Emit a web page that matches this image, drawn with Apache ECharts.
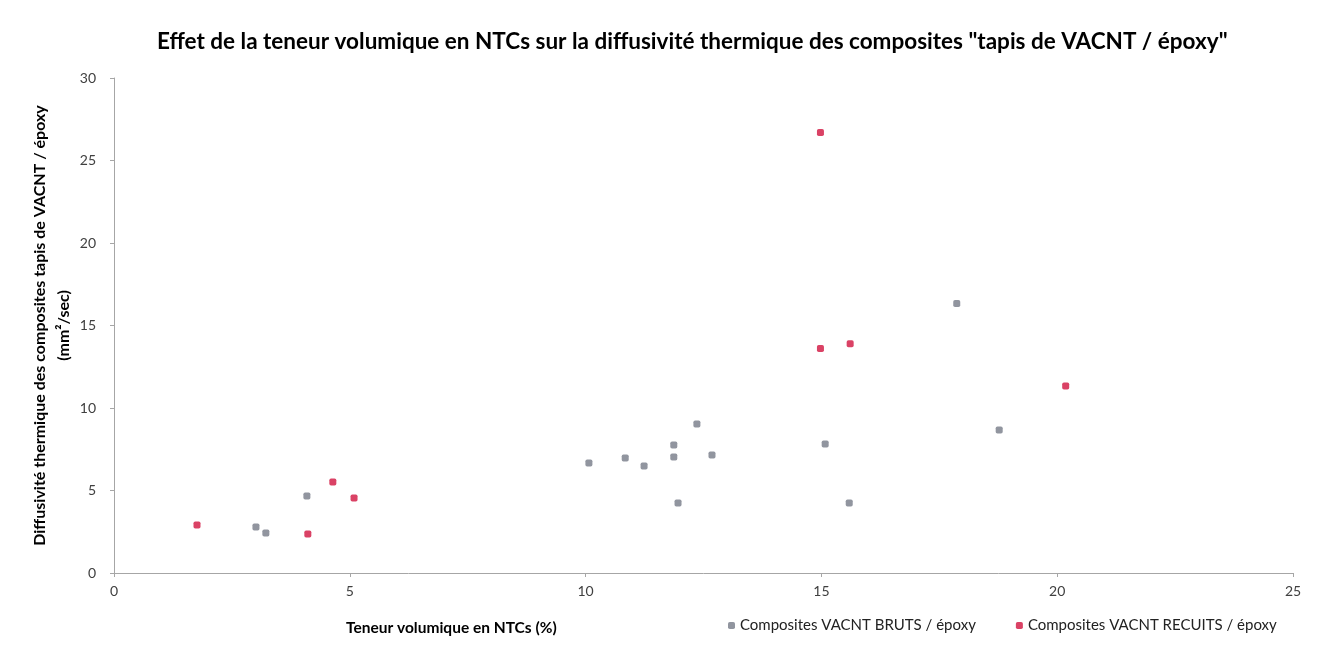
<!DOCTYPE html>
<html>
<head>
<meta charset="utf-8">
<script src="https://cdn.jsdelivr.net/npm/echarts@6/dist/echarts.min.js"></script>
<style>
html,body{margin:0;padding:0;background:#fff;}
#chart{width:1318px;height:650px;}
</style>
</head>
<body>
<div id="chart"></div>
<script>
// Data
const titleText = 'Effet de la teneur volumique en NTCs sur la diffusivité thermique des composites "tapis de VACNT / époxy"';
const xAxisName = 'Teneur volumique en NTCs (%)';
const yAxisName = 'Diffusivité thermique des composites tapis de VACNT / époxy\n(mm²/sec)';
const seriesNames = ['Composites VACNT BRUTS / époxy', 'Composites VACNT RECUITS / époxy'];

const brutsX = [3.01, 3.22, 4.09, 10.07, 10.84, 11.24, 11.87, 11.87, 12.36, 12.68, 11.96, 15.08, 15.59, 17.87, 18.77];
const brutsY = [2.79, 2.42, 4.67, 6.67, 6.97, 6.48, 7.76, 7.03, 9.03, 7.15, 4.24, 7.82, 4.24, 16.33, 8.67];

const recuitsX = [1.76, 4.11, 4.64, 5.09, 14.98, 14.98, 15.61, 20.18];
const recuitsY = [2.91, 2.36, 5.52, 4.55, 26.7, 13.6, 13.9, 11.33];

const xTicks = {min: 0, max: 25, interval: 5};
const yTicks = {min: 0, max: 30, interval: 5};

const zip = (xs, ys) => xs.map((x, i) => [x, ys[i]]);

const chart = echarts.init(document.getElementById('chart'));
const FONT = 'Lato';
chart.setOption({
  backgroundColor: '#ffffff',
  animation: false,
  title: {
    text: titleText,
    left: 152,
    top: 25,
    textStyle: {fontFamily: FONT, fontWeight: 'bold', fontSize: 22.5, color: '#000'}
  },
  grid: {left: 114, right: 25, top: 78, bottom: 77, containLabel: false},
  legend: {
    data: seriesNames,
    left: 723,
    top: 613,
    itemWidth: 7,
    itemHeight: 7,
    itemGap: 40,
    textStyle: {fontFamily: FONT, fontSize: 15, color: '#222'}
  },
  xAxis: {
    type: 'value',
    min: xTicks.min, max: xTicks.max, interval: xTicks.interval,
    splitLine: {show: false},
    axisLine: {lineStyle: {color: '#a6a6a6'}},
    axisTick: {show: true, length: 4, lineStyle: {color: '#a6a6a6'}},
    axisLabel: {fontFamily: FONT, fontSize: 14, color: '#404040', margin: 11}
  },
  yAxis: {
    type: 'value',
    min: yTicks.min, max: yTicks.max, interval: yTicks.interval,
    name: yAxisName,
    nameLocation: 'middle',
    nameGap: 38,
    nameMoveOverlap: false,
    nameRotate: 90,
    nameTextStyle: {fontFamily: FONT, fontWeight: 'bold', fontSize: 16, color: '#000', lineHeight: 24, align: 'center'},
    splitLine: {show: false},
    axisLine: {show: true, lineStyle: {color: '#a6a6a6'}},
    axisTick: {show: true, length: 4, lineStyle: {color: '#a6a6a6'}},
    axisLabel: {fontFamily: FONT, fontSize: 14, color: '#404040', margin: 18}
  },
  graphic: [{
    type: 'text',
    left: 346,
    top: 620,
    style: {text: xAxisName, font: 'bold 15.5px ' + FONT, fill: '#000'}
  }],
  series: [
    {
      name: seriesNames[0],
      type: 'scatter',
      symbol: 'roundRect',
      symbolSize: 7,
      itemStyle: {color: '#767a87'},
      data: zip(brutsX, brutsY)
    },
    {
      name: seriesNames[1],
      type: 'scatter',
      symbol: 'roundRect',
      symbolSize: 7,
      itemStyle: {color: '#d1133f'},
      data: zip(recuitsX, recuitsY)
    }
  ]
});
</script>
</body>
</html>
